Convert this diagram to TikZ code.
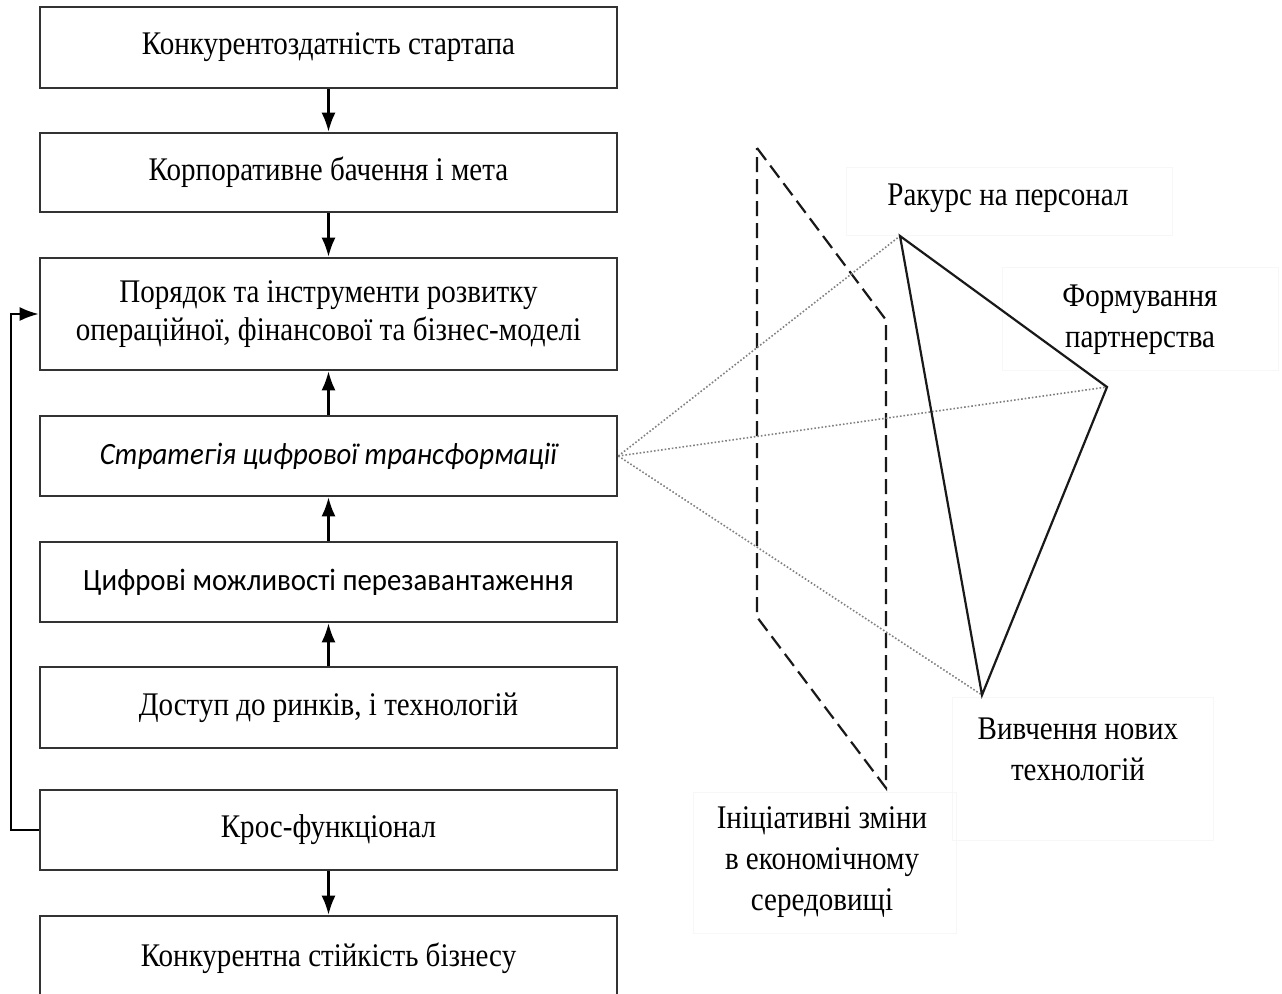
\documentclass[tikz,border=0pt]{standalone}
\usepackage{fontspec}
\setmainfont{Liberation Serif}[FakeStretch=0.88]
\newfontfamily\calibri{Carlito}[FakeStretch=0.93]
\usepackage{tikz}
\usetikzlibrary{arrows.meta, positioning, calc}

\begin{document}
\begin{tikzpicture}[x=1pt,y=-1pt,>={Latex[length=19pt,width=14pt]},
		line width=2.2pt,
		stage box/.style={rectangle,draw=black!80,line width=2.6pt,minimum width=577pt,inner sep=0pt,
			align=center,font=\fontsize{33}{38}\selectfont},
		side label/.style={align=center,font=\fontsize{33}{41}\selectfont},
		faint frame/.style={draw=black!3,line width=0.8pt},
		link/.style={draw=black!50,dotted,line width=1.6pt},
		edge line/.style={draw=black!90,line width=2.2pt},
		env plane/.style={draw=black!90,line width=2.2pt,dash pattern=on 15pt off 7pt}]
		
		\useasboundingbox (0,0) rectangle (1282,993);
		
		% left column
		\node[stage box,minimum height=81pt] (konk) at (328.5,47.5) {Конкурентоздатність стартапа};
		\node[stage box,minimum height=79pt] (bach) at (328.5,172.5) {Корпоративне бачення і мета};
		\node[stage box,minimum height=112pt] (poryad) at (328.5,314) {Порядок та інструменти розвитку\\операційної, фінансової та бізнес-моделі};
		\node[stage box,minimum height=80pt,font=\calibri\itshape\fontsize{31}{38}\selectfont] (strat) at (328.5,456) {Стратегія цифрової трансформації};
		\node[stage box,minimum height=80pt,font=\calibri\fontsize{31}{38}\selectfont] (tsyfr) at (328.5,582) {Цифрові можливості перезавантаження};
		\node[stage box,minimum height=81pt] (dostup) at (328.5,707.5) {Доступ до ринків, і технологій};
		\node[stage box,minimum height=80pt] (kros) at (328.5,830) {Крос-функціонал};
		\node[stage box,minimum height=84pt] (stiyk) at (328.5,958) {Конкурентна стійкість бізнесу};
		
		\path[->,draw=black]
		(konk) edge (bach)
		(bach) edge (poryad)
		(strat) edge (poryad)
		(tsyfr) edge (strat)
		(dostup) edge (tsyfr)
		(kros) edge (stiyk);
		
		% feedback loop
		\draw[->,black] (kros.west) -- ++(-28,0) |- (poryad.west);
		
		% right side
		\coordinate (hub) at (strat.east);
		\coordinate (pers) at (900,236);
		\coordinate (partn) at (1107,387);
		\coordinate (tech) at (982,695);
		
		\draw[faint frame] (846,167) rectangle (1172,235);
		\draw[faint frame] (1002,267) rectangle (1278,370);
		\draw[faint frame] (952,697) rectangle (1213,840);
		\draw[faint frame] (693,792) rectangle (956,933);
		
		\node[side label] (perslbl) at (1008,198) {Ракурс на персонал};
		\node[side label] (partnlbl) at (1140,320) {Формування\\партнерства};
		\node[side label] (techlbl) at (1078,749) {Вивчення нових\\технологій};
		\node[side label] (envlbl) at (822,862) {Ініціативні зміни\\в економічному\\середовищі};
		
		\draw[env plane] (757,148) -- (886,320) -- (886,788) -- (757,617) -- cycle;
		
		\path[link] (hub) -- (pers) (hub) -- (partn) (hub) -- (tech);
		\draw[edge line] (pers) -- (partn) -- (tech) -- cycle;
		\end{tikzpicture}
\end{document}
